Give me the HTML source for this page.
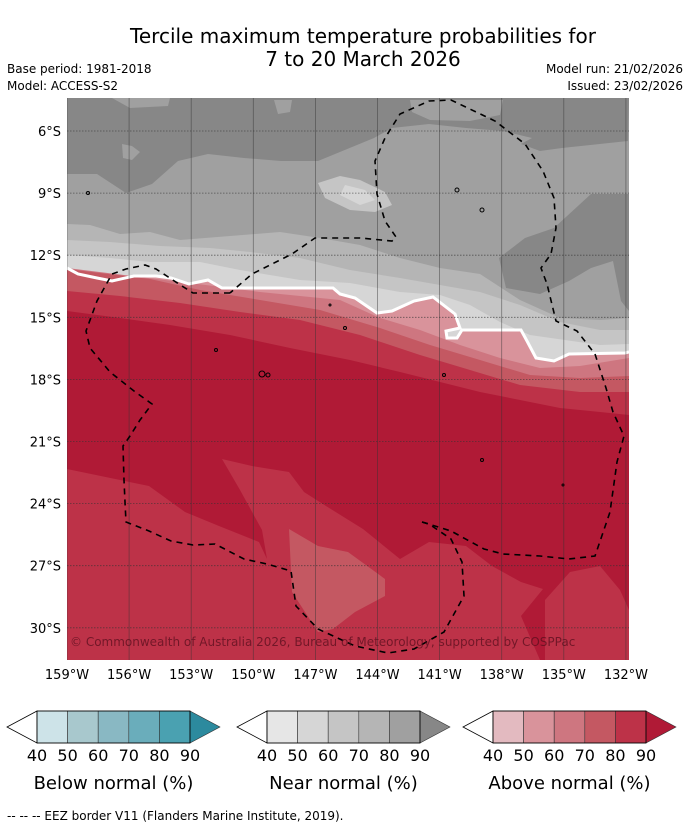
<!DOCTYPE html>
<html><head><meta charset="utf-8"><style>
html,body{margin:0;padding:0;background:#fff;}
svg{display:block;font-family:"DejaVu Sans","Liberation Sans",sans-serif;}
</style></head><body>
<svg id="root" width="690" height="827" viewBox="0 0 690 827">
<text x="363" y="43" font-size="20" text-anchor="middle">Tercile maximum temperature probabilities for</text>
<text x="363" y="66" font-size="20" text-anchor="middle">7 to 20 March 2026</text>
<text x="7" y="73" font-size="12">Base period: 1981-2018</text>
<text x="7" y="90" font-size="12">Model: ACCESS-S2</text>
<text x="683" y="73" font-size="12" text-anchor="end">Model run: 21/02/2026</text>
<text x="683" y="90" font-size="12" text-anchor="end">Issued: 23/02/2026</text>

<defs><clipPath id="mc"><rect x="67" y="98" width="562" height="562"/></clipPath></defs>
<g clip-path="url(#mc)">
<rect x="67" y="98" width="562" height="562" fill="#a0a0a0"/>
<polygon fill="#878787" points="67,98 629,98 628,141 562,148 540,151 521,144 532,138 503,131 466,128 429,124 392,128 374,138 318,161 281,161 244,158 208,154 178,161 152,184 126,193 97,174 67,174"/>
<polygon fill="#a0a0a0" points="410,100 503,100 500,115 470,121 430,120 412,112"/>
<polygon fill="#a0a0a0" points="274,100 292,100 290,112 278,114"/>
<polygon fill="#a0a0a0" points="122,144 132,146 140,152 132,160 123,158"/>
<polygon fill="#a0a0a0" points="112,98 170,98 168,106 130,108"/>
<polygon fill="#878787" points="499,258 525,238 554,228 591,194 629,194 629,311 621,301 613,261 591,268 569,281 540,294 506,288"/>
<polygon fill="#b5b5b5" points="67,224 90,225 120,234 150,232 180,240 230,236 280,232 320,238 360,245 400,258 440,268 480,274 520,300 560,318 600,320 629,318 629,400 67,400"/>
<polygon fill="#c5c5c5" points="67,240 110,242 160,246 210,248 250,252 300,258 350,270 400,278 440,285 480,292 520,305 560,322 600,330 629,330 629,400 67,400"/>
<polygon fill="#d6d6d6" points="67,255 110,258 150,262 200,262 240,270 300,280 350,283 400,292 440,295 470,305 500,322 530,335 600,345 629,344 629,400 67,400"/>
<polygon fill="#c5c5c5" points="318,183 340,176 360,180 385,192 392,205 375,212 350,210 325,198"/>
<polygon fill="#d6d6d6" points="345,185 365,190 375,200 360,205 340,195"/>

<polygon fill="#d9939b" points="67,268 78,274 97,278 112,281 134,276 156,276 171,278 189,284 208,280 222,288 230,288 333,288 340,294 355,298 377,313 392,311 414,301 433,297 455,314 460,328 446,331 447,338 457,338 462,330 521,330 527,341 536,358 554,361 569,354 625,353 629,352 629,660 67,660"/>
<polygon fill="#ce7680" points="67,268 230,288 260,292 300,296 340,300 380,318 420,330 460,345 500,358 540,368 580,366 629,358 629,660 67,660"/>
<polygon fill="#c45862" points="67,269 150,279 200,290 260,300 320,310 380,328 430,345 480,360 530,375 580,378 629,376 629,660 67,660"/>
<polygon fill="#bd3248" points="67,291 120,296 180,303 240,312 300,320 360,335 420,355 470,370 520,385 580,392 629,392 629,660 67,660"/>
<polygon fill="#b01a36" points="67,311 120,318 170,325 230,335 290,348 350,360 400,372 440,382 480,392 520,400 560,408 600,412 629,415 629,660 67,660"/>
<polygon fill="#bd3248" points="67,469 149,486 185,512 219,526 259,542 267,559 262,530 240,490 222,459 252,466 289,472 304,492 326,506 363,529 400,559 429,542 466,546 492,566 521,582 543,589 521,616 540,660 67,660"/>
<polygon fill="#bd3248" points="545,600 570,572 600,566 620,590 629,610 629,660 545,660"/>
<polygon fill="#c45862" points="289,529 318,546 348,552 385,579 385,596 355,612 333,629 318,632 292,592"/>
<polyline fill="none" stroke="#fff" stroke-width="3" points="67,268 78,274 97,278 112,281 134,276 156,276 171,278 189,284 208,280 222,288 230,288 333,288 340,294 355,298 377,313 392,311 414,301 433,297 455,314 460,328 446,331 447,338 457,338 462,330 521,330 527,341 536,358 554,361 569,354 625,353 629,352"/>

<g id="grid"></g>

<polyline fill="none" stroke="#000" stroke-width="1.6" stroke-dasharray="6,5" points="230,293 193,293 182,286 156,269 145,265 126,269 112,274 97,301 86,331 90,348 110,372 134,391 152,404 140,420 130,436 123,446 124,480 125,502 126,522 149,531 171,541 193,545 215,544 244,559 267,564 291,571 296,606 318,629 355,646 388,653 414,649 444,632 464,596 462,562 451,539 429,524 422,522"/>
<polyline fill="none" stroke="#000" stroke-width="1.6" stroke-dasharray="6,5" points="422,522 451,531 484,549 503,554 540,556 569,559 595,556 610,512 617,462 624,436 613,412 606,388 595,354 577,331 556,321 547,284 541,268 551,254 556,228 554,198 543,171 525,144 495,121 451,100 429,101 400,114 385,138 375,161 377,194 385,221 396,237 392,241 360,238 315,238 292,254 252,274 230,293"/>
<g fill="none" stroke="#000" stroke-width="1">
<circle cx="262" cy="374" r="3"/><circle cx="268" cy="375" r="2"/><circle cx="457" cy="190" r="2"/><circle cx="482" cy="210" r="2"/>
<circle cx="88" cy="193" r="1.5"/><circle cx="216" cy="350" r="1.5"/><circle cx="330" cy="305" r="1"/><circle cx="345" cy="328" r="1.5"/><circle cx="444" cy="375" r="1.5"/><circle cx="482" cy="460" r="1.5"/><circle cx="563" cy="485" r="1"/>
</g>
<text x="70" y="646" font-size="12" fill="#5a0f1d" fill-opacity="0.75">© Commonwealth of Australia 2026, Bureau of Meteorology, supported by COSPPac</text>
</g>
<g id="axes"></g>

<g id="cbars"></g>
<text x="7" y="820" font-size="12">--  --  -- EEZ border V11 (Flanders Marine Institute, 2019).</text>
</svg>
<script>
const lonTicks=["159°W","156°W","153°W","150°W","147°W","144°W","141°W","138°W","135°W","132°W"];
const lonValues=[-159,-156,-153,-150,-147,-144,-141,-138,-135,-132];
const latTicks=["6°S","9°S","12°S","15°S","18°S","21°S","24°S","27°S","30°S"];
const latValues=[-6,-9,-12,-15,-18,-21,-24,-27,-30];
const cbarLevels=["40","50","60","70","80","90"];
const cbarTitles=["Below normal (%)","Near normal (%)","Above normal (%)"];
const cbarColors=[["#cde3e8","#a8c8cd","#89b8c3","#6aadbb","#4aa1b1","#2c8a9e"],["#e6e6e6","#d6d6d6","#c5c5c5","#b5b5b5","#a0a0a0","#878787"],["#e3bac0","#d9939b","#ce7680","#c45862","#bd3248","#b01a36"]];
const NS="http://www.w3.org/2000/svg";
function xs(lon){return 67+(lon+159)*20.7;}
function ys(lat){return 131+(-6-lat)*20.7;}
function mk(t,a,p){const e=document.createElementNS(NS,t);for(const k in a)e.setAttribute(k,a[k]);p.appendChild(e);return e;}
const grid=document.getElementById('grid'),axes=document.getElementById('axes');
lonValues.forEach((v,i)=>{
 const l=mk('line',{x1:xs(v),x2:xs(v),y1:98,y2:660,stroke:'#333','stroke-opacity':0.55,'stroke-width':0.8},grid);
 
 
 const t=mk('text',{x:xs(v),y:679,'font-size':13,'text-anchor':'middle'},axes);t.textContent=lonTicks[i];
 
 
});
latValues.forEach((v,i)=>{
 const l=mk('line',{x1:67,x2:629,y1:ys(v),y2:ys(v),stroke:'#333','stroke-opacity':0.7,'stroke-width':0.8,'stroke-dasharray':'1.5,1.5'},grid);
 
 
 const t=mk('text',{x:61,y:ys(v)+5,'font-size':13,'text-anchor':'end'},axes);t.textContent=latTicks[i];
 
 
});
const cb=document.getElementById('cbars');
const bx=[37,267,493];
cbarColors.forEach((cols,j)=>{
 const x0=bx[j],w=30.6,y0=711,h=32;
 const g=mk('g',{},cb);
 
 
 const lt=mk('polygon',{points:`${x0},${y0} ${x0-30},${y0+h/2} ${x0},${y0+h}`,fill:'#fff',stroke:'#000','stroke-width':0.8},g);
 
 
 for(let k=0;k<5;k++){const r=mk('rect',{x:x0+k*w,y:y0,width:w,height:h,fill:cols[k],stroke:'#333','stroke-width':0.6},g);
  
  }
 const xe=x0+5*w;
 const rt=mk('polygon',{points:`${xe},${y0} ${xe+30},${y0+h/2} ${xe},${y0+h}`,fill:cols[5],stroke:'#333','stroke-width':0.6},g);
 
 
 mk('rect',{x:x0,y:y0,width:5*w,height:h,fill:'none',stroke:'#000','stroke-width':0.8},g);
 cbarLevels.forEach((s,k)=>{const t=mk('text',{x:x0+k*w,y:761,'font-size':16,'text-anchor':'middle'},g);t.textContent=s;
  
  });
 const tt=mk('text',{x:x0+2.5*w,y:789,'font-size':18,'text-anchor':'middle'},g);tt.textContent=cbarTitles[j];
 
 
});
</script>
</body></html>
